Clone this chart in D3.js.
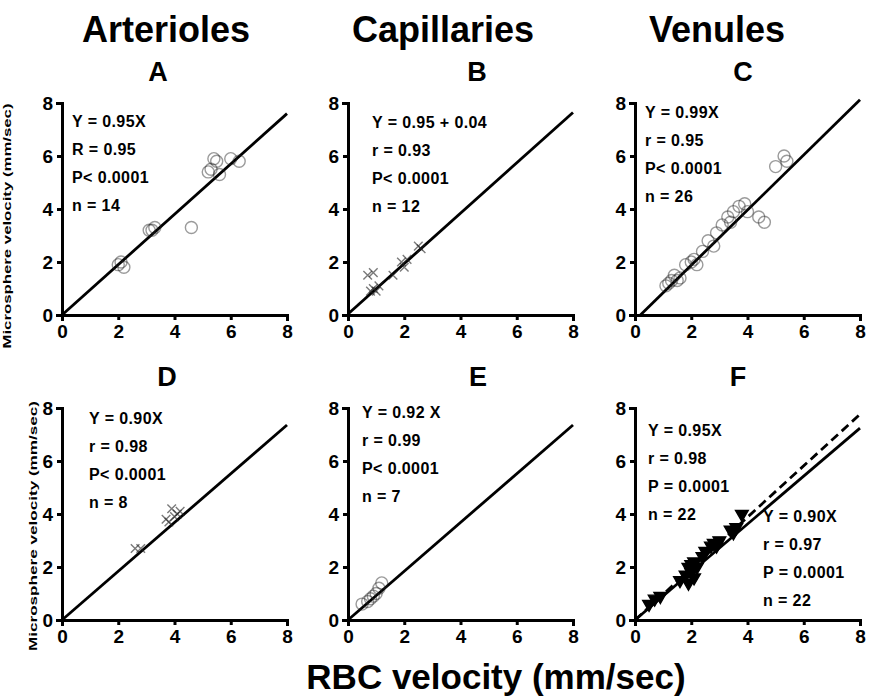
<!DOCTYPE html>
<html>

<head>
  <meta charset="utf-8" />
  <title>RBC vs microsphere velocity</title>
  <style>
    body {
      margin: 0;
      background: #fff;
    }

    svg text {
      font-family: "Liberation Sans", Arial, sans-serif;
      font-weight: bold;
      fill: #000;
    }

    .axis path,
    .axis line {
      stroke: #000;
      stroke-width: 3;
    }
  </style>
  <script src="https://cdnjs.cloudflare.com/ajax/libs/d3/7.8.5/d3.min.js"></script>
</head>

<body>
  <div id="chart"></div>
  <script>
    // column titles and panel letters
    var colTitles = ['Arterioles', 'Capillaries', 'Venules'];
    var panelLetters = ['A', 'B', 'C', 'D', 'E', 'F'];
    var tickValues = [0, 2, 4, 6, 8];

    // points (RBC velocity, microsphere velocity)
    var ptsA = [[2.0, 1.9], [2.1, 2.0], [2.2, 1.8], [3.1, 3.2], [3.2, 3.2], [3.3, 3.3], [4.6, 3.3],
      [5.2, 5.4], [5.3, 5.5], [5.4, 5.9], [5.5, 5.8], [5.6, 5.3], [6.0, 5.9], [6.3, 5.8]];
    var ptsB = [[0.8, 0.9], [0.9, 1.0], [1.0, 0.9], [1.1, 1.1], [0.7, 1.5], [0.9, 1.6], [1.9, 2.0],
      [2.0, 1.8], [2.1, 2.1], [2.5, 2.6], [2.6, 2.5], [1.6, 1.5]];
    var ptsC = [[1.1, 1.1], [1.2, 1.2], [1.3, 1.3], [1.4, 1.5], [1.5, 1.3], [1.6, 1.4], [1.8, 1.9],
      [2.0, 2.0], [2.1, 2.1], [2.2, 1.9], [2.4, 2.4], [2.6, 2.8], [2.9, 3.1], [3.1, 3.4], [3.3, 3.7],
      [3.5, 3.9], [3.7, 4.1], [3.9, 4.2], [4.0, 3.9], [4.4, 3.7], [4.6, 3.5], [5.0, 5.6], [5.3, 6.0],
      [5.4, 5.8], [2.8, 2.6], [3.4, 3.5]];
    var ptsD = [[2.6, 2.7], [2.8, 2.7], [3.7, 3.8], [3.8, 3.7], [4.0, 3.9], [4.1, 4.0], [4.2, 4.1], [3.9, 4.2]];
    var ptsE = [[0.5, 0.6], [0.7, 0.7], [0.8, 0.8], [0.9, 0.9], [1.0, 1.0], [1.1, 1.2], [1.2, 1.4]];
    var ptsF = [[0.5, 0.6], [0.7, 0.8], [0.9, 0.9], [1.6, 1.5], [1.8, 1.7], [1.9, 2.0], [1.9, 1.4],
      [2.0, 1.8], [2.0, 2.1], [2.1, 1.6], [2.1, 2.2], [2.2, 2.0], [2.4, 2.4], [2.5, 2.6], [2.7, 2.8],
      [2.8, 2.9], [2.9, 2.8], [3.0, 3.0], [3.4, 3.4], [3.5, 3.3], [3.6, 3.5], [3.8, 4.0]];
    var panelPoints = [ptsA, ptsB, ptsC, ptsD, ptsE, ptsF];
    var markerTypes = ['circle', 'cross', 'circle', 'cross', 'circle', 'triangle'];

    // regression lines as drawn
    var slopes = [0.95, 0.95, 1.04, 0.92, 0.92, 0.905];
    var intercepts = [0, 0.04, -0.2, 0, 0, 0];
    var dashedSlope = 0.97; // second fit in F

    var stats = [
      ['Y = 0.95X', 'R = 0.95', 'P< 0.0001', 'n = 14'],
      ['Y = 0.95 + 0.04', 'r = 0.93', 'P< 0.0001', 'n = 12'],
      ['Y = 0.99X', 'r = 0.95', 'P< 0.0001', 'n = 26'],
      ['Y = 0.90X', 'r = 0.98', 'P< 0.0001', 'n = 8'],
      ['Y = 0.92 X', 'r = 0.99', 'P< 0.0001', 'n = 7'],
      ['Y = 0.95X', 'r = 0.98', 'P = 0.0001', 'n = 22']
    ];
    var statsF2 = ['Y = 0.90X', 'r = 0.97', 'P = 0.0001', 'n = 22'];

    // layout
    var W = 877, H = 700;
    var colX = [62, 348, 635], rowY = [103, 408];
    var pw = 225, ph = 212;
    var titleX = [166, 443, 717];
    var letterX = [158, 477, 743, 167, 478, 738];
    var statsPos = [[10, 24], [24, 25], [10, 15], [27, 16], [14, 10], [13, 28]];

    var svg = d3.select('#chart').append('svg')
      .attr('width', W)
      .attr('height', H);

    svg.selectAll('.coltitle')
      .data(colTitles)
      .enter()
      .append('text')
      .attr('class', 'coltitle')
      .attr('x', (d, i) => titleX[i])
      .attr('y', 42)
      .attr('text-anchor', 'middle')
      .style('font-size', '36px')
      .text(d => d);

    var x = d3.scaleLinear().domain([0, 8]).range([0, pw]);
    var y = d3.scaleLinear().domain([0, 8]).range([ph, 0]);

    var line = d3.line()
      .x(d => x(d[0]))
      .y(d => y(d[1]));

    panelLetters.forEach(function (letter, i) {
      var col = i % 3, row = Math.floor(i / 3);
      var g = svg.append('g')
        .attr('transform', 'translate(' + colX[col] + ',' + rowY[row] + ')');

      svg.append('text')
        .attr('x', letterX[i])
        .attr('y', rowY[row] - 22)
        .attr('text-anchor', 'middle')
        .style('font-size', '27px')
        .text(letter);

      g.append('g')
        .attr('class', 'axis')
        .call(d3.axisLeft(y).tickValues(tickValues).tickSizeInner(5).tickSizeOuter(6).tickPadding(4))
        .selectAll('text')
        .style('font-size', '19px')
        .style('font-family', '"Liberation Sans", Arial, sans-serif')
        .style('font-weight', 'bold');

      g.append('g')
        .attr('class', 'axis')
        .attr('transform', 'translate(0,' + ph + ')')
        .call(d3.axisBottom(x).tickValues(tickValues).tickSizeInner(5).tickSizeOuter(6).tickPadding(5))
        .selectAll('text')
        .style('font-size', '19px')
        .style('font-family', '"Liberation Sans", Arial, sans-serif')
        .style('font-weight', 'bold');

      // fitted line(s)
      var x0 = intercepts[i] < 0 ? -intercepts[i] / slopes[i] : 0;
      g.append('path')
        .attr('d', line([[x0, slopes[i] * x0 + intercepts[i]], [8, slopes[i] * 8 + intercepts[i]]]))
        .attr('stroke', '#000')
        .attr('stroke-width', 2.8)
        .attr('fill', 'none');
      if (letter === 'F') {
        g.append('path')
          .attr('d', line([[0, 0], [8, dashedSlope * 8]]))
          .attr('stroke', '#000')
          .attr('stroke-width', 2.8)
          .attr('stroke-dasharray', '9,5')
          .attr('fill', 'none');
      }

      // markers
      var pts = panelPoints[i], type = markerTypes[i];
      if (type === 'circle') {
        g.selectAll('.pt')
          .data(pts)
          .enter()
          .append('circle')
          .attr('class', 'pt')
          .attr('cx', d => x(d[0]))
          .attr('cy', d => y(d[1]))
          .attr('r', 6)
          .attr('fill', 'none')
          .attr('stroke', '#222')
          .attr('stroke-opacity', 0.45)
          .attr('stroke-width', 1.4);
      } else {
        var sym = d3.symbol()
          .type(type === 'cross' ? d3.symbolTimes : d3.symbolTriangle)
          .size(type === 'cross' ? 50 : 70);
        g.selectAll('.pt')
          .data(pts)
          .enter()
          .append('path')
          .attr('class', 'pt')
          .attr('d', sym)
          .attr('transform', d => 'translate(' + x(d[0]) + ',' + y(d[1]) + ')' + (type === 'triangle' ? ' rotate(180)' : ''))
          .attr('fill', type === 'triangle' ? '#000' : 'none')
          .attr('stroke', type === 'triangle' ? '#000' : '#222')
          .attr('stroke-opacity', type === 'triangle' ? 1 : 0.6)
          .attr('stroke-width', 1.4);
      }

      // statistics text
      var sp = statsPos[i];
      g.selectAll('.stat')
        .data(stats[i])
        .enter()
        .append('text')
        .attr('class', 'stat')
        .attr('x', sp[0])
        .attr('y', (d, j) => sp[1] + j * 28)
        .style('font-size', '16px')
        .style('letter-spacing', '0.4px')
        .text(d => d);
      if (letter === 'F') {
        g.selectAll('.stat2')
          .data(statsF2)
          .enter()
          .append('text')
          .attr('class', 'stat2')
          .attr('x', 128)
          .attr('y', (d, j) => 114 + j * 28)
          .style('font-size', '16px')
          .style('letter-spacing', '0.4px')
          .text(d => d);
      }
    });

    // shared axis titles
    svg.append('text')
      .attr('transform', 'translate(11,226) rotate(-90)')
      .attr('text-anchor', 'middle')
      .attr('textLength', 245)
      .attr('lengthAdjust', 'spacingAndGlyphs')
      .style('font-size', '11px')
      .text('Microsphere velocity (mm/sec)');
    svg.append('text')
      .attr('transform', 'translate(37,526) rotate(-90)')
      .attr('text-anchor', 'middle')
      .attr('textLength', 250)
      .attr('lengthAdjust', 'spacingAndGlyphs')
      .style('font-size', '11px')
      .text('Microsphere velocity (mm/sec)');

    svg.append('text')
      .attr('x', 496)
      .attr('y', 689)
      .attr('text-anchor', 'middle')
      .style('font-size', '35px')
      .text('RBC velocity (mm/sec)');
  </script>
</body>

</html>
